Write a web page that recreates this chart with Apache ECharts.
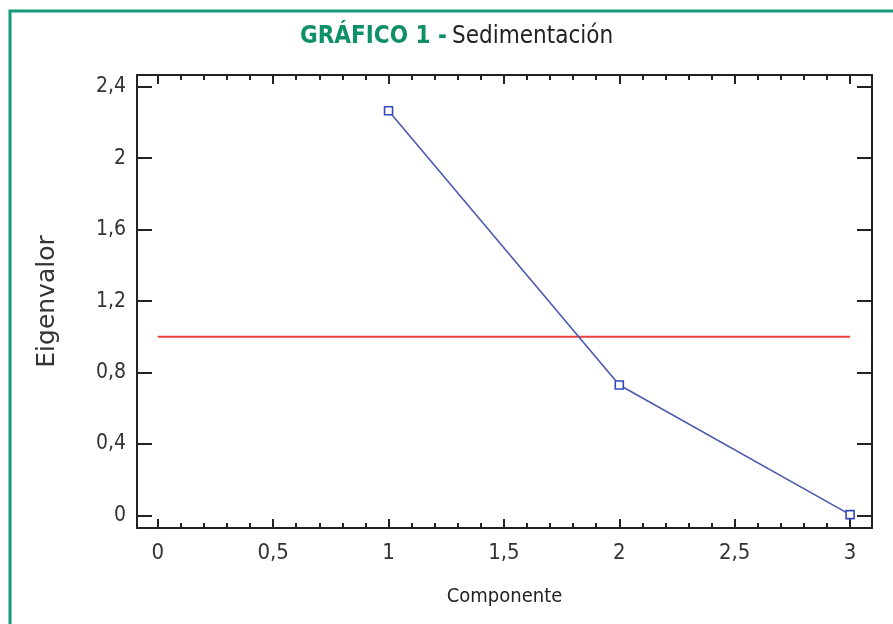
<!DOCTYPE html>
<html>
<head>
<meta charset="utf-8">
<script src="https://cdn.jsdelivr.net/npm/echarts@6/dist/echarts.min.js"></script>
<style>
html,body{margin:0;padding:0;background:#fff;}
#chart{width:893px;height:624px;}
</style>
</head>
<body>
<div id="chart"></div>
<script>
// Data
var components = [1, 2, 3];
var eigenvalues = [2.265, 0.73, 0.005];
var thresholdX = [0, 3];
var thresholdY = [1, 1];
var xMajorTicks = [0, 0.5, 1, 1.5, 2, 2.5, 3];
var xMinorTicks = [0.1, 0.2, 0.3, 0.4, 0.6, 0.7, 0.8, 0.9, 1.1, 1.2, 1.3, 1.4, 1.6, 1.7, 1.8, 1.9, 2.1, 2.2, 2.3, 2.4, 2.6, 2.7, 2.8, 2.9];
var yTicks = [0, 0.4, 0.8, 1.2, 1.6, 2, 2.4];
var titleMain = 'GRÁFICO 1 -';
var titleSub = 'Sedimentación';
var xName = 'Componente';
var yName = 'Eigenvalor';

var narrow = '"Liberation Sans Narrow", "DejaVu Sans Condensed", "Arial Narrow", sans-serif';
var axisColor = '#222';
function fmt(v) { return String(Math.round(v * 10) / 10).replace('.', ','); }

var chart = echarts.init(document.getElementById('chart'), null, {renderer: 'canvas'});

var xCommon = {type: 'value', min: -0.09, max: 3.095, splitLine: {show: false}};
var lineOn = {show: true, onZero: false, lineStyle: {color: axisColor, width: 2}};
var lineOff = {show: false, onZero: false};
var option = {
  animation: false,
  backgroundColor: '#fff',
  title: {
    left: 295, top: 20,
    text: '{a|' + titleMain + '} {b|' + titleSub + '}',
    textStyle: {
      rich: {
        a: {fontFamily: narrow, fontWeight: 'bold', fontSize: 24, color: '#0d9068'},
        b: {fontFamily: narrow, fontWeight: 'normal', fontSize: 24, color: '#222'}
      }
    }
  },
  graphic: [{
    type: 'polyline',
    shape: {points: [[10, 624], [10, 11], [893, 11]]},
    style: {stroke: '#139a78', lineWidth: 3, fill: null}
  }],
  grid: {left: 137, right: 21, top: 75, bottom: 96},
  xAxis: [
    Object.assign({}, xCommon, {
      position: 'bottom',
      name: xName, nameLocation: 'middle', nameGap: 59,
      nameTextStyle: {fontFamily: narrow, fontSize: 20, color: '#222'},
      axisLine: lineOn,
      axisTick: {show: true, inside: true, length: 9, customValues: xMajorTicks, lineStyle: {color: axisColor, width: 2}},
      axisLabel: {show: true, customValues: xMajorTicks, formatter: fmt, margin: 14,
        fontFamily: narrow, fontSize: 22, color: '#333'}
    }),
    Object.assign({}, xCommon, {
      position: 'bottom',
      axisLine: lineOff,
      axisTick: {show: true, inside: true, length: 5, customValues: xMinorTicks, lineStyle: {color: axisColor, width: 2}},
      axisLabel: {show: false}
    }),
    Object.assign({}, xCommon, {
      position: 'top',
      axisLine: lineOn,
      axisTick: {show: true, inside: true, length: 9, customValues: xMajorTicks, lineStyle: {color: axisColor, width: 2}},
      axisLabel: {show: false}
    }),
    Object.assign({}, xCommon, {
      position: 'top',
      axisLine: lineOff,
      axisTick: {show: true, inside: true, length: 5, customValues: xMinorTicks, lineStyle: {color: axisColor, width: 2}},
      axisLabel: {show: false}
    })
  ],
  yAxis: [
    {
      type: 'value', position: 'left', min: -0.07, max: 2.465,
      splitLine: {show: false},
      name: yName, nameLocation: 'middle', nameGap: 77, nameRotate: 90,
      nameTextStyle: {fontFamily: '"DejaVu Sans", sans-serif', fontSize: 25, color: '#333'},
      axisLine: lineOn,
      axisTick: {show: true, inside: true, length: 15, customValues: yTicks, lineStyle: {color: axisColor, width: 2}},
      axisLabel: {show: true, customValues: yTicks, formatter: fmt, margin: 11,
        fontFamily: narrow, fontSize: 21, color: '#333'}
    },
    {
      type: 'value', position: 'right', min: -0.07, max: 2.465,
      splitLine: {show: false},
      axisLine: lineOn,
      axisTick: {show: true, inside: true, length: 15, customValues: yTicks, lineStyle: {color: axisColor, width: 2}},
      axisLabel: {show: false}
    }
  ],
  series: [
    {
      type: 'line',
      xAxisIndex: 0, yAxisIndex: 0,
      data: thresholdX.map(function (x, i) { return [x, thresholdY[i]]; }),
      showSymbol: false, symbol: 'none',
      lineStyle: {color: '#e8403f', width: 2},
      z: 2
    },
    {
      type: 'line',
      xAxisIndex: 0, yAxisIndex: 0,
      data: components.map(function (c, i) { return [c, eigenvalues[i]]; }),
      symbol: 'rect', symbolSize: 8,
      itemStyle: {color: '#ffffff', borderColor: '#3347bd', borderWidth: 1.6},
      lineStyle: {color: '#4b5aae', width: 1.6},
      z: 3
    }
  ]
};
chart.setOption(option);
</script>
</body>
</html>
